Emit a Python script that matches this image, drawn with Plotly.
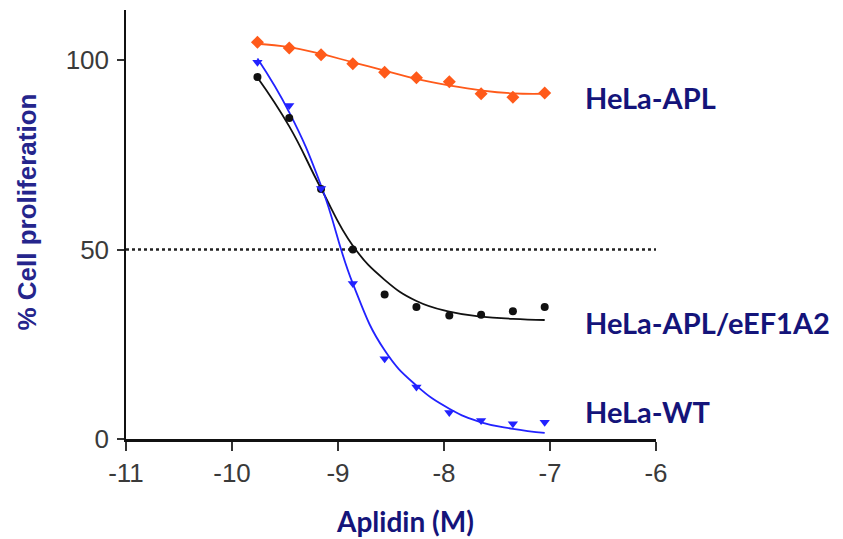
import plotly.graph_objects as go

# log10 molar concentration of Aplidin
log_conc = [-9.76, -9.46, -9.16, -8.86, -8.56, -8.26, -7.95, -7.65, -7.35, -7.05]

# measured points (% cell proliferation)
apl_pts = [104.7, 103.2, 101.4, 99.0, 96.8, 95.3, 94.3, 91.1, 90.2, 91.3]
eef_pts = [95.5, 84.7, 66.0, 50.0, 38.1, 34.8, 32.6, 32.8, 33.7, 34.8]
wt_pts = [99.4, 88.0, 66.1, 41.0, 21.2, 13.7, 7.0, 4.9, 4.0, 4.4]

# fitted curves at the same concentrations
apl_fit = [104.3, 103.4, 101.6, 99.4, 97.2, 95.0, 93.3, 92.0, 91.2, 91.1]
eef_fit = [95.4, 82.5, 66.1, 51.0, 42.0, 36.4, 33.6, 32.3, 31.7, 31.4]
wt_fit = [100.4, 86.2, 66.9, 41.0, 23.4, 14.1, 8.0, 4.4, 2.7, 1.6]

# 50 % reference line
ref_x = [-11, -6]
ref_y = [50, 50]

series_names = ["HeLa-APL", "HeLa-APL/eEF1A2", "HeLa-WT"]
label_y = [90.2, 30.8, 7.2]

x_ticks = [-11, -10, -9, -8, -7, -6]
y_ticks = [0, 50, 100]

ORANGE = "#ff5a1a"
BLACK = "#111111"
BLUE = "#2222ff"
NAVY = "#14147a"

fig = go.Figure()

fig.add_trace(go.Scatter(x=ref_x, y=ref_y, mode="lines",
                         line=dict(color="#222222", width=2.5, dash="dot"),
                         showlegend=False, hoverinfo="skip"))

for fit, col in [(apl_fit, ORANGE), (eef_fit, BLACK), (wt_fit, BLUE)]:
    fig.add_trace(go.Scatter(x=log_conc, y=fit, mode="lines",
                             line=dict(color=col, width=1.8, shape="spline", smoothing=1.3),
                             showlegend=False, hoverinfo="skip"))

fig.add_trace(go.Scatter(x=log_conc, y=apl_pts, mode="markers", name=series_names[0],
                         marker=dict(symbol="diamond", size=10, color=ORANGE),
                         showlegend=False))
fig.add_trace(go.Scatter(x=log_conc, y=eef_pts, mode="markers", name=series_names[1],
                         marker=dict(symbol="circle", size=8, color=BLACK),
                         showlegend=False))
fig.add_trace(go.Scatter(x=log_conc, y=wt_pts, mode="markers", name=series_names[2],
                         marker=dict(symbol="triangle-down", size=9, color=BLUE),
                         showlegend=False))

label_font = dict(family="Lato, 'Open Sans', sans-serif", size=29, color=NAVY)
for name, yv in zip(series_names, label_y):
    fig.add_annotation(x=-6.69, y=yv, xref="x", yref="y", text="<b>" + name + "</b>",
                       showarrow=False, xanchor="left", yanchor="middle", font=label_font)

fig.add_annotation(x=-0.187, y=0.53, xref="paper", yref="paper",
                   text="<b>% Cell proliferation</b>", textangle=-90, showarrow=False,
                   xanchor="center", yanchor="middle",
                   font=dict(family="'Liberation Sans', Arial, sans-serif", size=26, color="#25258c"))
fig.add_annotation(x=-8.37, y=-0.19, xref="x", yref="paper",
                   text="<b>Aplidin (M)</b>", showarrow=False,
                   xanchor="center", yanchor="middle", font=dict(family="Lato, sans-serif", size=28, color=NAVY))

tick_font = dict(family="'Liberation Sans', Arial, sans-serif", size=26, color="#3a3a3a")

fig.update_xaxes(range=[-11, -6], tickvals=x_ticks, ticktext=[str(v) for v in x_ticks],
                 showline=True, linecolor="#111111", linewidth=2.5, ticks="outside",
                 ticklen=9, tickwidth=1.5, tickcolor="#333333", showgrid=False, zeroline=False,
                 tickfont=tick_font)
fig.update_yaxes(range=[0, 113.2], tickvals=y_ticks, ticktext=[str(v) for v in y_ticks],
                 showline=True, linecolor="#111111", linewidth=1.5, ticks="outside",
                 ticklen=7, tickwidth=1.5, tickcolor="#333333", showgrid=False, zeroline=False,
                 tickfont=tick_font, ticklabelstandoff=3)

fig.update_layout(width=843, height=539, margin=dict(l=126, r=187, t=10, b=100),
                  plot_bgcolor="white", paper_bgcolor="white", showlegend=False)

fig.write_html("out.html", config={"displayModeBar": False},
               post_script="document.body.style.margin='0';")
